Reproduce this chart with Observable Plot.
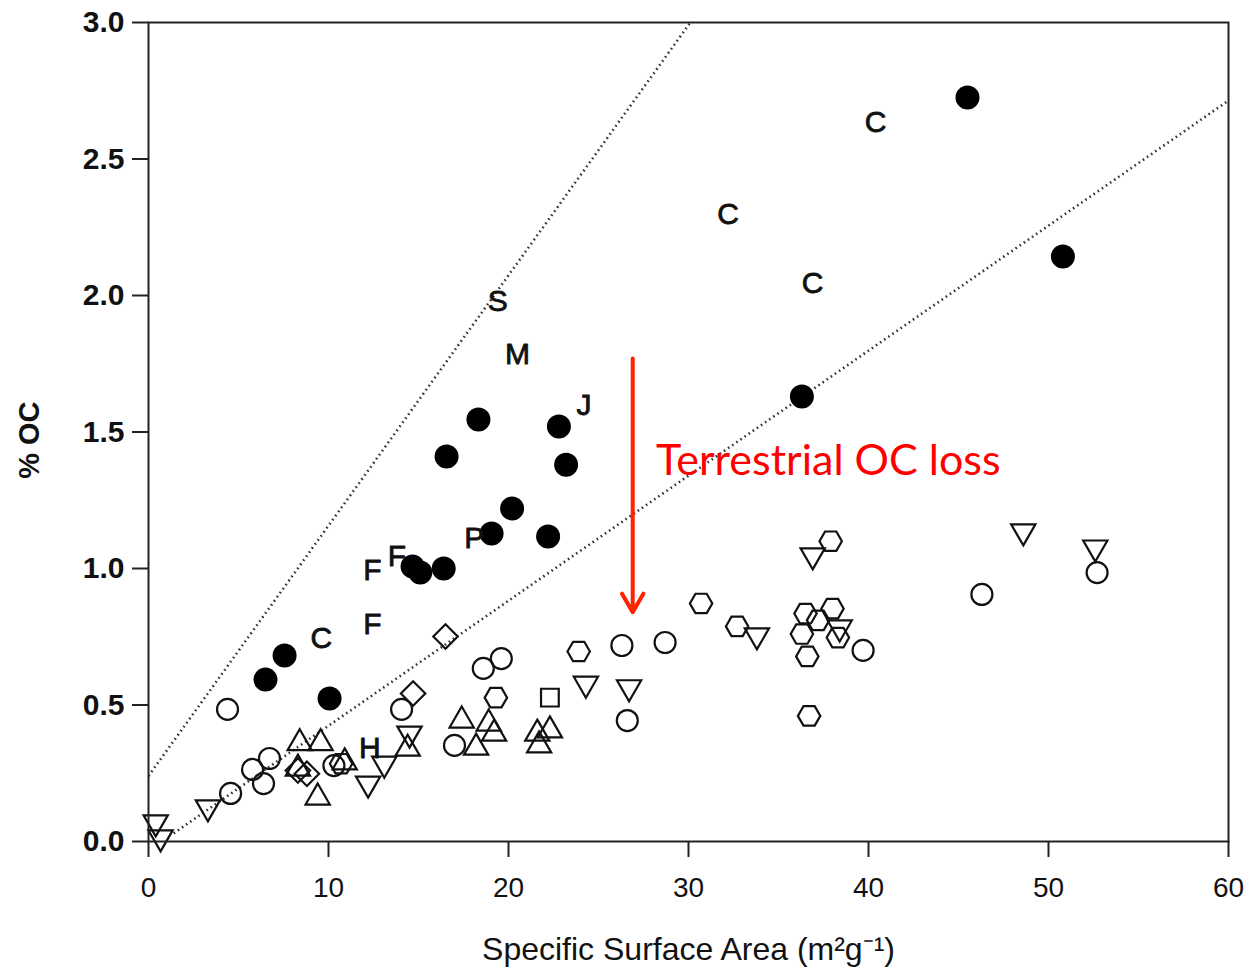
<!DOCTYPE html>
<html>
<head>
<meta charset="utf-8">
<script src="https://cdn.jsdelivr.net/npm/d3@7"></script>
<script src="https://cdn.jsdelivr.net/npm/@observablehq/plot@0.6"></script>
<style>
  html, body { margin: 0; padding: 0; background: #fff; }
  #chart svg { display: block; }
</style>
</head>
<body>
<div id="chart"></div>
<script>
// ---- data (x = specific surface area m2/g, y = %OC) ----
const filledCircles = [
  [6.5,0.593],[7.56,0.681],[10.06,0.524],[14.67,1.007],[15.1,0.985],[16.4,1.0],
  [16.56,1.41],[18.33,1.546],[20.2,1.22],[19.06,1.128],[22.2,1.117],[22.8,1.52],
  [23.2,1.38],[36.3,1.63],[45.5,2.725],[50.8,2.143]
];
const openCircles = [
  [4.39,0.484],[4.56,0.176],[5.78,0.264],[6.39,0.212],[6.72,0.304],[10.3,0.278],
  [14.06,0.484],[17.0,0.352],[18.6,0.634],[19.6,0.67],[26.3,0.718],[26.6,0.443],
  [28.7,0.729],[39.7,0.70],[46.3,0.905],[52.7,0.985]
];
const hexagons = [
  [10.7,0.285],[19.3,0.527],[23.9,0.696],[30.7,0.872],[32.7,0.788],[37.9,1.10],
  [36.5,0.835],[38.0,0.853],[37.2,0.81],[36.3,0.76],[38.3,0.747],[36.6,0.678],[36.7,0.46]
];
const trianglesDown = [
  [0.4,0.07],[0.67,0.015],[3.3,0.125],[12.2,0.212],[13.1,0.285],[14.5,0.395],
  [24.3,0.578],[26.7,0.565],[33.8,0.755],[36.9,1.048],[38.4,0.784],[48.6,1.136],[52.6,1.077]
];
const trianglesUp = [
  [8.4,0.36],[9.56,0.36],[8.3,0.267],[9.4,0.161],[10.9,0.29],[14.4,0.34],
  [17.4,0.443],[18.9,0.432],[19.2,0.395],[18.2,0.344],[21.6,0.395],[22.3,0.407],[21.7,0.352]
];
const diamonds = [[8.3,0.26],[8.8,0.248],[14.7,0.542],[16.5,0.751]];
const squares = [[22.3,0.527]];
const letterLabels = [
  ["C",9.6,0.744],["F",12.44,0.993],["F",13.8,1.044],["F",12.44,0.795],["P",18.1,1.11],
  ["S",19.4,1.978],["M",20.5,1.784],["J",24.2,1.597],["C",32.2,2.297],["C",36.9,2.044],
  ["C",40.4,2.634],["H",12.3,0.34]
];
// dotted reference lines: [x1, y1, x2, y2]
const upperLine = [0, 0.24, 30.1, 3.0];
const lowerLine = [1.4, 0.03, 60, 2.714];
// annotation
const arrowSeg = [26.9, 1.769, 26.9, 0.84];
const annotation = ["Terrestrial OC loss", 28.2, 1.392];
const xTicks = [0, 10, 20, 30, 40, 50, 60];
const yTicks = [0, 0.5, 1.0, 1.5, 2.0, 2.5, 3.0];
const yTitle = ["% OC", -6.6, 1.47];
const xTitle = "Specific Surface Area (m²g⁻¹)";

const pts = a => a.map(([x, y]) => ({x, y}));
const triangleDown = {
  draw(context, size) {
    const y = -Math.sqrt(size / (Math.sqrt(3) * 3));
    context.moveTo(0, -y * 2);
    context.lineTo(-Math.sqrt(3) * y, y);
    context.lineTo(Math.sqrt(3) * y, y);
    context.closePath();
  }
};
const hexFlat = {
  draw(context, size) {
    const r = Math.sqrt(size / Math.PI) * 1.02;
    for (let i = 0; i < 6; i++) {
      const a = i * Math.PI / 3;
      const px = r * Math.cos(a), py = r * Math.sin(a);
      if (i === 0) context.moveTo(px, py); else context.lineTo(px, py);
    }
    context.closePath();
  }
};
const lines = [upperLine, lowerLine].map(([x1, y1, x2, y2]) => ({x1, y1, x2, y2}));

const chart = Plot.plot({
  width: 1251,
  height: 977,
  marginLeft: 148,
  marginRight: 23,
  marginTop: 22,
  marginBottom: 136,
  style: {fontFamily: "'Liberation Sans', Arial, sans-serif", background: "#fff"},
  x: {domain: [0, 60], ticks: xTicks, label: null},
  y: {domain: [0, 3], ticks: yTicks, label: null},
  marks: [
    Plot.link(lines, {x1: "x1", y1: "y1", x2: "x2", y2: "y2", stroke: "#333", strokeWidth: 2.6, strokeDasharray: "1.6,3.4", clip: true}),
    Plot.dot(pts(openCircles), {x: "x", y: "y", r: 10.5, symbol: "circle", stroke: "#111", strokeWidth: 2.2, fill: "none"}),
    Plot.dot(pts(hexagons), {x: "x", y: "y", r: 11, symbol: hexFlat, stroke: "#111", strokeWidth: 2.2, fill: "none"}),
    Plot.dot(pts(trianglesDown), {x: "x", y: "y", r: 9, symbol: triangleDown, stroke: "#111", strokeWidth: 2.2, fill: "none"}),
    Plot.dot(pts(trianglesUp), {x: "x", y: "y", r: 9, symbol: "triangle", stroke: "#111", strokeWidth: 2.2, fill: "none"}),
    Plot.dot(pts(diamonds), {x: "x", y: "y", r: 11, symbol: "diamond2", stroke: "#111", strokeWidth: 2.2, fill: "none"}),
    Plot.dot(pts(squares), {x: "x", y: "y", r: 10, symbol: "square", stroke: "#111", strokeWidth: 2.2, fill: "none"}),
    Plot.dot(pts(filledCircles), {x: "x", y: "y", r: 12, symbol: "circle", fill: "#000", stroke: "none"}),
    Plot.text(letterLabels, {x: d => d[1], y: d => d[2], text: d => d[0], fontSize: 30, fill: "#111", stroke: "#111", strokeWidth: 0.8}),
    Plot.frame({stroke: "#222", strokeWidth: 2}),
    Plot.axisX({ticks: xTicks, tickSize: 16, tickPadding: 20, fontSize: 28, tickFormat: d => String(d), stroke: "#222", strokeWidth: 2, fill: "#111", label: null}),
    Plot.axisY({ticks: yTicks, tickSize: 16, tickPadding: 8, fontSize: 30, fontWeight: "bold", tickFormat: d => d.toFixed(1), stroke: "#222", strokeWidth: 2, fill: "#111", label: null}),
    Plot.text([yTitle], {x: d => d[1], y: d => d[2], text: d => d[0], rotate: -90, fontSize: 29, fontWeight: "bold", fill: "#111"}),
    Plot.text([xTitle], {frameAnchor: "bottom", dy: 118, fontSize: 32, fill: "#111"}),
    Plot.arrow([arrowSeg], {x1: d => d[0], y1: d => d[1], x2: d => d[2], y2: d => d[3], stroke: "#ff2200", strokeWidth: 4, headLength: 8, headAngle: 60}),
    Plot.text([annotation], {x: d => d[1], y: d => d[2], text: d => d[0], textAnchor: "start", fontSize: 43, fontFamily: "Lato, 'Open Sans', sans-serif", fill: "#ff0000"})
  ]
});
document.getElementById("chart").appendChild(chart);
</script>
</body>
</html>
